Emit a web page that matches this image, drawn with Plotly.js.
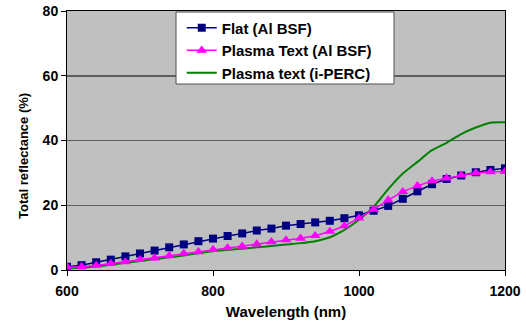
<!DOCTYPE html>
<html>
<head>
<meta charset="utf-8">
<script src="https://cdn.plot.ly/plotly-3.0.1.min.js"></script>
<style>html,body{margin:0;padding:0;background:#fff;}#chart{width:526px;height:324px;}</style>
</head>
<body>
<div id="chart"></div>
<script>
const wavelength = [600,620,640,660,680,700,720,740,760,780,800,820,840,860,880,900,920,940,960,980,1000,1020,1040,1060,1080,1100,1120,1140,1160,1180,1200];
const flatAlBSF = [1.0,1.5,2.4,3.2,4.2,5.1,6.0,7.0,7.9,8.9,9.7,10.5,11.3,12.2,12.8,13.7,14.2,14.7,15.2,16.0,16.9,18.3,19.8,22.0,24.3,26.5,28.1,29.2,30.2,30.9,31.4];
const plasmaAlBSF = [0.9,1.0,1.4,2.0,2.5,3.2,3.7,4.4,5.1,5.6,6.3,6.8,7.3,8.0,8.7,9.3,9.8,10.6,11.9,13.6,16.0,18.7,21.6,24.2,26.0,27.5,28.4,29.3,30.0,30.3,30.4];
const plasmaPERC = [0.5,0.7,1.1,1.6,2.2,2.8,3.3,3.9,4.5,5.2,5.8,6.2,6.6,7.0,7.4,7.9,8.3,8.9,10.1,12.4,15.5,19.5,25.0,29.8,33.4,37.0,39.3,42.0,44.0,45.5,45.6];
const seriesNames = ["Flat (Al BSF)", "Plasma Text (Al BSF)", "Plasma text (i-PERC)"];
const xTicks = [600, 800, 1000, 1200];
const yTicks = [0, 20, 40, 60, 80];
const xTitle = "Wavelength (nm)";
const yTitle = "Total reflectance (%)";

const FONT = "Liberation Sans, Arial, sans-serif";

const traces = [
  {
    x: wavelength, y: plasmaPERC, name: seriesNames[2], type: "scatter", mode: "lines",
    line: {color: "#008000", width: 2, shape: "spline", smoothing: 0.6},
    legendrank: 3
  },
  {
    x: wavelength, y: flatAlBSF, name: seriesNames[0], type: "scatter", mode: "lines+markers",
    line: {color: "#000080", width: 1.5},
    marker: {symbol: "square", size: 8, color: "#000080", line: {width: 0}},
    legendrank: 1
  },
  {
    x: wavelength, y: plasmaAlBSF, name: seriesNames[1], type: "scatter", mode: "lines+markers",
    line: {color: "#FF00FF", width: 1.5},
    marker: {symbol: "triangle-up", size: 9.5, color: "#FF00FF", line: {width: 0}},
    legendrank: 2
  }
];

const layout = {
  width: 526, height: 324,
  margin: {l: 67, r: 21, t: 11, b: 54, pad: 0},
  paper_bgcolor: "#ffffff",
  plot_bgcolor: "#c0c0c0",
  font: {family: FONT, size: 14, color: "#000", weight: "bold"},
  showlegend: true,
  legend: {
    x: 0.262, y: 0.998, xanchor: "left", yanchor: "top",
    bgcolor: "rgba(0,0,0,0)", borderwidth: 0,
    font: {family: FONT, size: 15, color: "#000", weight: "bold"},
    traceorder: "normal"
  },
  shapes: [{
    type: "rect", xref: "paper", yref: "paper", layer: "above",
    x0: 0.2489, x1: 0.7466, y0: 0.7181, y1: 0.996,
    fillcolor: "#ffffff", line: {color: "#505050", width: 1}
  }],
  xaxis: {
    range: [600, 1200], tickvals: xTicks, ticktext: xTicks.map(String),
    ticks: "outside", ticklen: 5, tickcolor: "#000", tickwidth: 1,
    showline: true, linecolor: "#000", linewidth: 1, mirror: true,
    showgrid: false, zeroline: false,
    tickfont: {family: FONT, size: 14, weight: "bold"},
    ticklabelstandoff: 3,
    title: {text: xTitle, font: {family: FONT, size: 15, weight: "bold"}, standoff: 8}
  },
  yaxis: {
    range: [0, 80], tickvals: yTicks, ticktext: yTicks.map(String),
    ticks: "outside", ticklen: 5, tickcolor: "#000", tickwidth: 1,
    showline: true, linecolor: "#000", linewidth: 1, mirror: true,
    showgrid: true, gridcolor: "#5f5f5f", gridwidth: 1.5, zeroline: false,
    tickfont: {family: FONT, size: 14, weight: "bold"}
  },
  annotations: [{
    text: yTitle, xref: "paper", yref: "paper", x: -0.1005, y: 0.44,
    xanchor: "center", yanchor: "middle", textangle: -90, showarrow: false,
    font: {family: FONT, size: 13, weight: "bold", color: "#000"}
  }]
};

Plotly.newPlot("chart", traces, layout, {staticPlot: true, displayModeBar: false});
</script>
</body>
</html>
